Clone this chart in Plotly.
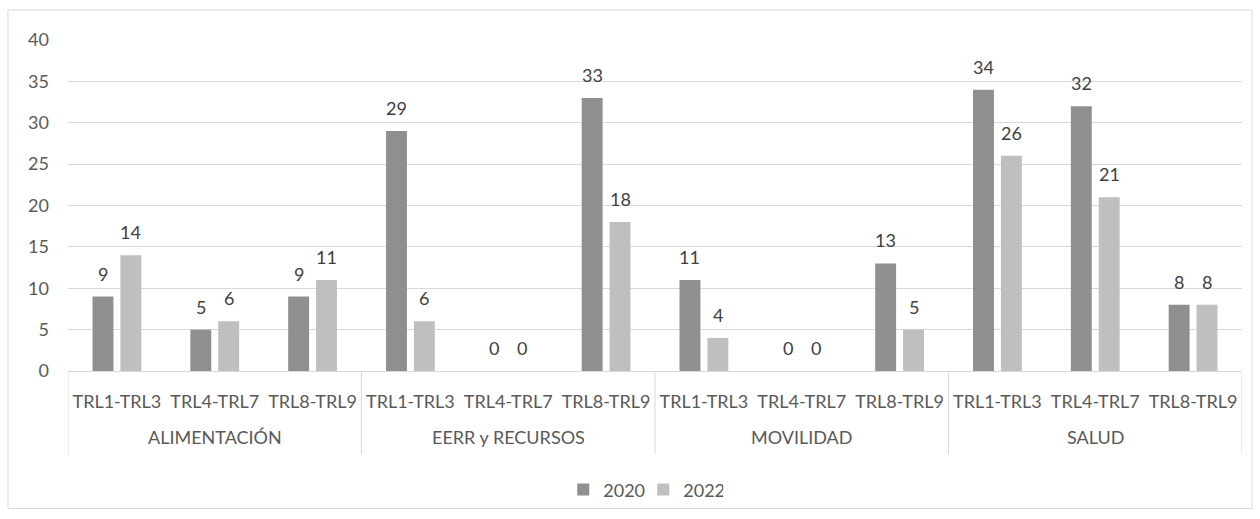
import plotly.graph_objects as go

groups = ["ALIMENTACIÓN", "EERR y RECURSOS", "MOVILIDAD", "SALUD"]
levels = ["TRL1-TRL3", "TRL4-TRL7", "TRL8-TRL9"]
series_names = ["2020", "2022"]
values_2020 = [9, 5, 9, 29, 0, 33, 11, 0, 13, 34, 32, 8]
values_2022 = [14, 6, 11, 6, 0, 18, 4, 0, 5, 26, 21, 8]
y_ticks = [0, 5, 10, 15, 20, 25, 30, 35, 40]

keys = [f"{g}|{lv}" for g in groups for lv in levels]
inner = [lv for _ in groups for lv in levels]
n_lv = len(levels)

FONT = "Lato, 'Open Sans', sans-serif"
colors = ["#8f8f8f", "#bfbfbf"]
GRID = "#d9d9d9"
BARGAP = 0.43
series = [values_2020, values_2022]

fig = go.Figure()
for name, vals, col in zip(series_names, series, colors):
    fig.add_trace(go.Bar(
        x=keys, y=vals, name=name,
        marker=dict(color=col, line=dict(width=0)),
        cliponaxis=False,
    ))

annotations = []
# data labels above each bar (bar centre offset inside its category slot)
n_s = len(series)
slot = (1 - BARGAP) / n_s
for si, vals in enumerate(series):
    off = (si - (n_s - 1) / 2) * slot
    for ci, v in enumerate(vals):
        annotations.append(dict(x=ci + off, xref="x", y=v, yref="y", text=str(v),
                                showarrow=False, xanchor="center", yanchor="bottom", yshift=10,
                                font=dict(family=FONT, size=18, color="#404040")))
# group labels and dividers at group boundaries
for gi, g in enumerate(groups):
    annotations.append(dict(x=gi * n_lv + (n_lv - 1) / 2, xref="x", y=-0.199, yref="paper",
                            text=g, showarrow=False, xanchor="center", yanchor="middle",
                            font=dict(family=FONT, size=18, color="#595959")))
shapes = []
for b in range(len(groups) + 1):
    shapes.append(dict(type="line", xref="x", yref="paper", x0=b * n_lv - 0.5, x1=b * n_lv - 0.5,
                       y0=0, y1=-0.25, line=dict(color=GRID, width=1)))
shapes.append(dict(type="rect", xref="paper", yref="paper",
                   x0=(8 - 68) / 1174, x1=(1252 - 68) / 1174,
                   y0=(372 - 510) / 332, y1=(372 - 10) / 332,
                   line=dict(color=GRID, width=1), fillcolor="rgba(0,0,0,0)", layer="below"))

fig.update_layout(
    width=1260, height=519,
    margin=dict(l=68, r=18, t=40, b=147),
    paper_bgcolor="white", plot_bgcolor="white",
    barmode="group", bargap=BARGAP, bargroupgap=0.25,
    font=dict(family=FONT, size=18, color="#595959"),
    showlegend=True,
    legend=dict(orientation="h", x=0.49, xanchor="center", y=-0.355, yanchor="middle",
                font=dict(family=FONT, size=18, color="#595959"), itemwidth=30,
                entrywidth=35, traceorder="normal"),
    xaxis=dict(type="category", range=[-0.5, len(keys) - 0.5], tickvals=keys, ticktext=inner,
               showline=True, linecolor=GRID, linewidth=1, showgrid=False, ticks="",
               ticklabelstandoff=14,
               tickfont=dict(family=FONT, size=18, color="#595959")),
    yaxis=dict(range=[0, 40], tickvals=y_ticks, showgrid=True, gridcolor=GRID,
               gridwidth=1, zeroline=False, showline=False, ticks="",
               ticklabelstandoff=18,
               tickfont=dict(family=FONT, size=18, color="#595959")),
    annotations=annotations,
    shapes=shapes,
)

fig.write_html("out.html")
